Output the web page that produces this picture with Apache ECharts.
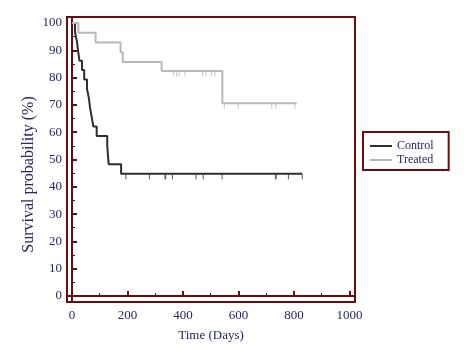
<!DOCTYPE html>
<html>
<head>
<meta charset="utf-8">
<script src="https://cdn.jsdelivr.net/npm/echarts@6/dist/echarts.min.js"></script>
<style>html,body{margin:0;padding:0;background:#fff;}#c{width:468px;height:350px;}</style>
</head>
<body>
<div id="c"></div>
<script>
// ---- data ----
const controlTimes = [0, 11, 18, 22, 27, 36, 44, 54, 61, 65, 71, 77, 89, 127, 132, 177, 830];
const controlSurv  = [100, 96.6, 93.1, 89.7, 86.2, 82.8, 79.3, 75.9, 72.4, 69.0, 65.5, 62.1, 58.6, 55.2, 48.3, 44.8, 44.8];
const controlCensor = [194, 279, 335, 338, 362, 447, 473, 541, 733, 736, 780, 830];
const treatedTimes = [0, 23, 85, 175, 183, 323, 542, 810];
const treatedSurv  = [100, 96.4, 92.9, 89.3, 85.7, 82.4, 70.6, 70.6];
const treatedCensor = [365, 377, 386, 407, 471, 483, 503, 515, 549, 599, 720, 735, 804];
const xTicks = [0, 200, 400, 600, 800, 1000];
const xMinorTicks = [100, 300, 500, 700, 900];
const yTicks = [0, 10, 20, 30, 40, 50, 60, 70, 80, 90, 100];
const yMinorTicks = [5, 15, 25, 35, 45, 55, 65, 75, 85, 95];
const seriesNames = ['Control', 'Treated'];

const AXIS = '#6b0d0d';
const TXT = '#262668';
const FONT = 'Liberation Serif';

function pairs(t, s) { return t.map((v, i) => [v, s[i]]); }
function survAt(t, times, surv) {
  let v = surv[0];
  for (let i = 0; i < times.length; i++) { if (times[i] <= t) v = surv[i]; }
  return v;
}
function censorPts(c, times, surv) { return c.map(t => [t, survAt(t, times, surv)]); }

const xMin = -18, xMax = 1020, yMin = -2.2, yMax = 102.2;

const chart = echarts.init(document.getElementById('c'), null, {renderer: 'canvas'});
const baseX = {
  type: 'value', min: xMin, max: xMax, splitLine: {show: false},
};
const baseY = {
  type: 'value', min: yMin, max: yMax, splitLine: {show: false},
};
chart.setOption({
  animation: false,
  backgroundColor: '#fff',
  grid: {left: 67, right: 113, top: 17, bottom: 48, show: true, borderColor: AXIS, borderWidth: 2},
  legend: {
    data: seriesNames,
    orient: 'vertical',
    left: 363, top: 132,
    borderColor: AXIS, borderWidth: 2,
    padding: [8, 15, 4, 7],
    itemGap: 2,
    itemWidth: 22, itemHeight: 2,
    icon: 'rect',
    textStyle: {fontFamily: FONT, fontSize: 12, color: TXT, padding: [0, 0, 0, 0]},
  },
  xAxis: [
    Object.assign({}, baseX, {
      name: 'Time (Days)', nameLocation: 'middle', nameGap: 27, nameMoveOverlap: false,
      nameTextStyle: {fontFamily: FONT, fontSize: 13, color: TXT},
      axisLine: {show: true, lineStyle: {color: AXIS, width: 2}},
      axisTick: {show: true, inside: true, length: 5, lineStyle: {color: AXIS, width: 2}, customValues: xTicks},
      axisLabel: {show: true, margin: 7, fontFamily: FONT, fontSize: 13, color: TXT, customValues: xTicks,
                  formatter: v => String(v)},
    }),
    Object.assign({}, baseX, {
      position: 'bottom',
      axisLine: {show: false},
      axisTick: {show: true, inside: true, length: 3, lineStyle: {color: AXIS, width: 1}, customValues: xMinorTicks},
      axisLabel: {show: false},
    }),
  ],
  yAxis: [
    Object.assign({}, baseY, {
      name: 'Survival probability (%)', nameLocation: 'middle', nameGap: 30, nameRotate: 90, nameMoveOverlap: false,
      nameTextStyle: {fontFamily: FONT, fontSize: 16, color: TXT, padding: [0, 30, 0, 0]},
      axisLine: {show: true, lineStyle: {color: AXIS, width: 2}},
      axisTick: {show: true, inside: true, length: 5, lineStyle: {color: AXIS, width: 2}, customValues: yTicks},
      axisLabel: {show: true, margin: 5, fontFamily: FONT, fontSize: 13, color: TXT, customValues: yTicks,
                  formatter: v => String(v)},
    }),
    Object.assign({}, baseY, {
      position: 'left',
      axisLine: {show: false},
      axisTick: {show: true, inside: true, length: 3, lineStyle: {color: AXIS, width: 1}, customValues: yMinorTicks},
      axisLabel: {show: false},
    }),
  ],
  series: [
    {
      name: 'Control', type: 'line', step: 'end', showSymbol: false, symbol: 'none',
      data: pairs(controlTimes, controlSurv),
      lineStyle: {color: '#2e2e2e', width: 2}, itemStyle: {color: '#2e2e2e'}, z: 3,
    },
    {
      name: 'Treated', type: 'line', step: 'end', showSymbol: false, symbol: 'none',
      data: pairs(treatedTimes, treatedSurv),
      lineStyle: {color: '#b8b8b8', width: 2}, itemStyle: {color: '#b8b8b8'}, z: 4,
    },
    {
      name: 'Control censored', type: 'scatter', symbol: 'rect', symbolSize: [1, 5], symbolOffset: [0, 3],
      data: censorPts(controlCensor, controlTimes, controlSurv),
      itemStyle: {color: '#2e2e2e'}, z: 3,
    },
    {
      name: 'Treated censored', type: 'scatter', symbol: 'rect', symbolSize: [1, 5], symbolOffset: [0, 3],
      data: censorPts(treatedCensor, treatedTimes, treatedSurv),
      itemStyle: {color: '#b8b8b8'}, z: 4,
    },
  ],
});
</script>
</body>
</html>
